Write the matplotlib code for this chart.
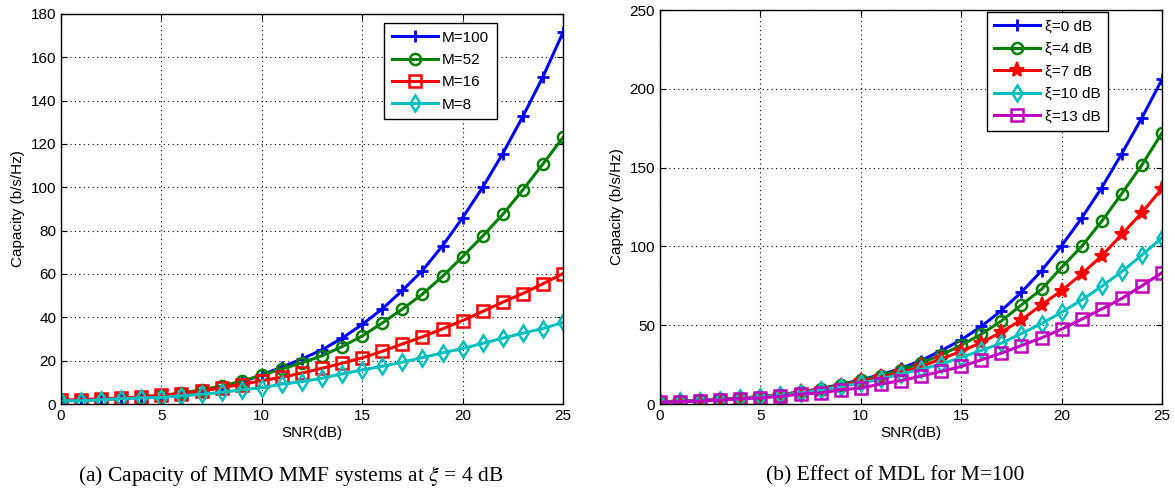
import numpy as np
import matplotlib
matplotlib.use("Agg")
import matplotlib.pyplot as plt

snr = list(range(26))

# (a) capacity vs SNR for different M at xi = 4 dB
cap_m100 = [1.5, 1.8, 2.1, 2.6, 3.2, 3.9, 4.8, 6.0, 7.7, 10.0, 13.5, 17.0, 20.8, 25.0, 30.4,
            36.7, 43.9, 52.4, 61.6, 73.0, 86.0, 100.0, 115.6, 132.7, 151.0, 171.5]
cap_m52 = [1.5, 1.8, 2.1, 2.6, 3.2, 4.0, 5.0, 6.6, 8.2, 10.6, 13.3, 16.2, 19.0, 22.3, 26.5,
           31.4, 37.4, 43.8, 50.7, 58.9, 68.0, 77.5, 87.5, 98.8, 110.8, 123.0]
cap_m16 = [1.7, 2.0, 2.4, 2.8, 3.3, 4.0, 4.8, 6.0, 7.6, 9.0, 10.8, 12.3, 14.3, 16.5, 18.8,
           21.3, 24.3, 27.7, 31.0, 34.7, 38.5, 42.7, 47.0, 51.0, 55.5, 60.2]
cap_m8 = [1.5, 1.5, 2.0, 2.5, 2.8, 3.0, 3.8, 4.5, 5.4, 6.6, 7.5, 9.2, 10.3, 11.9, 13.9,
          15.7, 17.4, 19.3, 21.4, 23.6, 25.6, 28.0, 30.4, 32.7, 34.8, 37.7]
labels_a = ["M=100", "M=52", "M=16", "M=8"]

# (b) capacity vs SNR for different MDL, M = 100
cap_x0 = [1.4, 1.8, 2.3, 2.9, 3.7, 4.7, 6.0, 7.6, 9.7, 12.4, 15.4, 18.6, 22.6, 27.6, 33.8,
          40.7, 49.2, 59.3, 70.9, 84.6, 100.4, 118.0, 137.3, 158.9, 181.6, 206.0]
cap_x4 = [1.4, 1.8, 2.3, 2.9, 3.7, 4.7, 5.9, 7.5, 9.5, 12.2, 15.0, 18.0, 21.7, 26.0, 31.0,
          37.3, 44.3, 52.7, 62.9, 72.8, 86.7, 100.0, 116.0, 133.5, 151.7, 172.0]
cap_x7 = [1.3, 1.7, 2.2, 2.8, 3.6, 4.6, 5.8, 7.3, 9.2, 11.6, 14.3, 16.9, 20.0, 23.8, 28.5,
          33.5, 39.0, 45.6, 53.4, 62.9, 72.0, 82.5, 94.0, 107.6, 121.5, 136.7]
cap_x10 = [1.2, 1.6, 2.1, 2.7, 3.5, 4.4, 5.6, 7.0, 8.8, 11.0, 13.3, 15.8, 19.0, 22.0, 25.3,
           29.5, 34.0, 38.6, 44.7, 51.0, 58.2, 66.0, 74.7, 84.0, 94.5, 105.5]
cap_x13 = [1.0, 1.5, 1.9, 2.5, 3.4, 3.8, 4.9, 6.3, 7.0, 9.0, 10.1, 12.7, 14.8, 17.7, 20.7,
           23.8, 28.0, 32.3, 37.1, 42.0, 47.5, 53.8, 60.3, 67.0, 75.0, 83.3]
labels_b = ["\u03be=0 dB", "\u03be=4 dB", "\u03be=7 dB", "\u03be=10 dB", "\u03be=13 dB"]

plt.rcParams["font.family"] = ["Liberation Sans", "DejaVu Sans"]
plt.rcParams["font.size"] = 11
plt.rcParams["mathtext.fontset"] = "stix"

fig = plt.figure(figsize=(11.75, 4.91), dpi=100)
W, H = 1175.0, 491.0
ax1 = fig.add_axes([61 / W, 1 - 404 / H, (563 - 61) / W, (404 - 14) / H])
ax2 = fig.add_axes([660 / W, 1 - 404 / H, (1162 - 660) / W, (404 - 10) / H])

blue = (0, 0, 1)
green = (0, 0.5, 0)
red = (1, 0, 0)
cyan = (0, 0.75, 0.75)
magenta = (0.75, 0, 0.75)

lw = 2.2
ms = 8

ax1.plot(snr, cap_m100, color=blue, lw=lw, marker="+", ms=ms + 1, mew=2, label=labels_a[0])
ax1.plot(snr, cap_m52, color=green, lw=lw, marker="o", ms=ms, mew=1.8, mfc="none", label=labels_a[1])
ax1.plot(snr, cap_m16, color=red, lw=lw, marker="s", ms=ms, mew=1.8, mfc="none", label=labels_a[2])
ax1.plot(snr, cap_m8, color=cyan, lw=lw, marker="d", ms=ms, mew=1.8, mfc="none", label=labels_a[3])

ax2.plot(snr, cap_x0, color=blue, lw=lw, marker="+", ms=ms + 1, mew=2, label=labels_b[0])
ax2.plot(snr, cap_x4, color=green, lw=lw, marker="o", ms=ms, mew=1.8, mfc="none", label=labels_b[1])
ax2.plot(snr, cap_x7, color=red, lw=lw, marker="*", ms=ms + 3, mew=1.5, label=labels_b[2])
ax2.plot(snr, cap_x10, color=cyan, lw=lw, marker="d", ms=ms, mew=1.8, mfc="none", label=labels_b[3])
ax2.plot(snr, cap_x13, color=magenta, lw=lw, marker="s", ms=ms, mew=1.8, mfc="none", label=labels_b[4])

for ax, ymax, ystep in [(ax1, 180, 20), (ax2, 250, 50)]:
    ax.set_xlim(0, 25)
    ax.set_ylim(0, ymax)
    ax.set_xticks(range(0, 26, 5))
    ax.set_yticks(range(0, ymax + 1, ystep))
    ax.grid(True, linestyle=(0, (1, 3)), color="black", lw=0.8)
    ax.tick_params(direction="in", top=True, right=True, length=4, labelsize=11)
    ax.set_xlabel("SNR(dB)", fontsize=11, labelpad=2)
    ax.set_ylabel("Capacity (b/s/Hz)", fontsize=11)
    for s in ax.spines.values():
        s.set_linewidth(1.0)

leg_kw = dict(loc="upper right", bbox_transform=fig.transFigure, borderaxespad=0,
              fancybox=False, edgecolor="black", framealpha=1, fontsize=11,
              handlelength=3.0, handletextpad=0.3, labelspacing=0.55, borderpad=0.5)
l1 = ax1.legend(bbox_to_anchor=(497 / W, 1 - 23 / H), **leg_kw)
l2 = ax2.legend(bbox_to_anchor=(1108 / W, 1 - 12 / H), **leg_kw)
for l in (l1, l2):
    l.get_frame().set_linewidth(1.0)

cap_font = ["Liberation Serif", "DejaVu Serif"]
fig.text(291 / W, 1 - 476 / H, "(a) Capacity of MIMO MMF systems at $\\xi$ = 4 dB",
         ha="center", va="center", fontsize=15.5, family=cap_font)
fig.text(895 / W, 1 - 476 / H, "(b) Effect of MDL for M=100",
         ha="center", va="center", fontsize=15.5, family=cap_font)

fig.savefig("out.png", dpi=100)
